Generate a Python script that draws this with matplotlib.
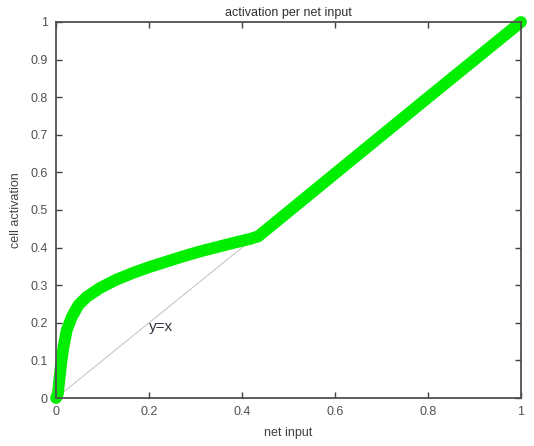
import numpy as np
import matplotlib
matplotlib.use('Agg')
import matplotlib.pyplot as plt

# curve (net input -> cell activation)
net_input = [0.0, 0.004, 0.007, 0.011, 0.016, 0.023, 0.034, 0.048, 0.066, 0.095,
             0.13, 0.166, 0.2, 0.238, 0.274, 0.31, 0.345, 0.38, 0.417, 0.435,
             0.6, 0.8, 1.0]
activation = [0.0, 0.012, 0.048, 0.093, 0.136, 0.181, 0.216, 0.247, 0.269, 0.293,
              0.315, 0.333, 0.348, 0.363, 0.377, 0.39, 0.401, 0.412, 0.423, 0.43,
              0.597, 0.799, 1.0]

# reference line y = x up to the knee
ref_x = [0.0, 0.43]
ref_y = [0.0, 0.43]

xticks = [0, 0.2, 0.4, 0.6, 0.8, 1]
xtick_labels = ['0', '0.2', '0.4', '0.6', '0.8', '1']
yticks = [0, 0.1, 0.2, 0.3, 0.4, 0.5, 0.6, 0.7, 0.8, 0.9, 1]
ytick_labels = ['0', '0.1', '0.2', '0.3', '0.4', '0.5', '0.6', '0.7', '0.8', '0.9', '1']

plt.rcParams['font.family'] = ['Liberation Sans', 'DejaVu Sans']

fig = plt.figure(figsize=(5.34, 4.46), dpi=100)
ax = fig.add_axes([0.105, 0.1076, 0.8707, 0.8431])

ax.plot(ref_x, ref_y, color='#c8c8c8', linewidth=0.8, zorder=1)
ax.plot(net_input, activation, color='#00ee00', linewidth=8.5,
        solid_capstyle='round', solid_joinstyle='round', zorder=2, clip_on=False)

ax.text(0.2, 0.19, 'y=x', fontsize=11, color='#303040', va='center', ha='left')

ax.set_xlim(0, 1)
ax.set_ylim(0, 1)
ax.set_xticks(xticks)
ax.set_xticklabels(xtick_labels)
ax.set_yticks(yticks)
ax.set_yticklabels(ytick_labels)
ax.tick_params(direction='in', length=4, width=1, top=True, right=True,
               labelsize=9, colors='#404040', labelcolor='#505050', pad=6)
for s in ax.spines.values():
    s.set_linewidth(1.3)
    s.set_color('#505050')

ax.set_title('activation per net input', fontsize=9, color='#303030', pad=4)
ax.set_xlabel('net input', fontsize=9, color='#404040', labelpad=6)
ax.set_ylabel('cell activation', fontsize=9, color='#404040', labelpad=6)

fig.savefig('out.png', dpi=100)
